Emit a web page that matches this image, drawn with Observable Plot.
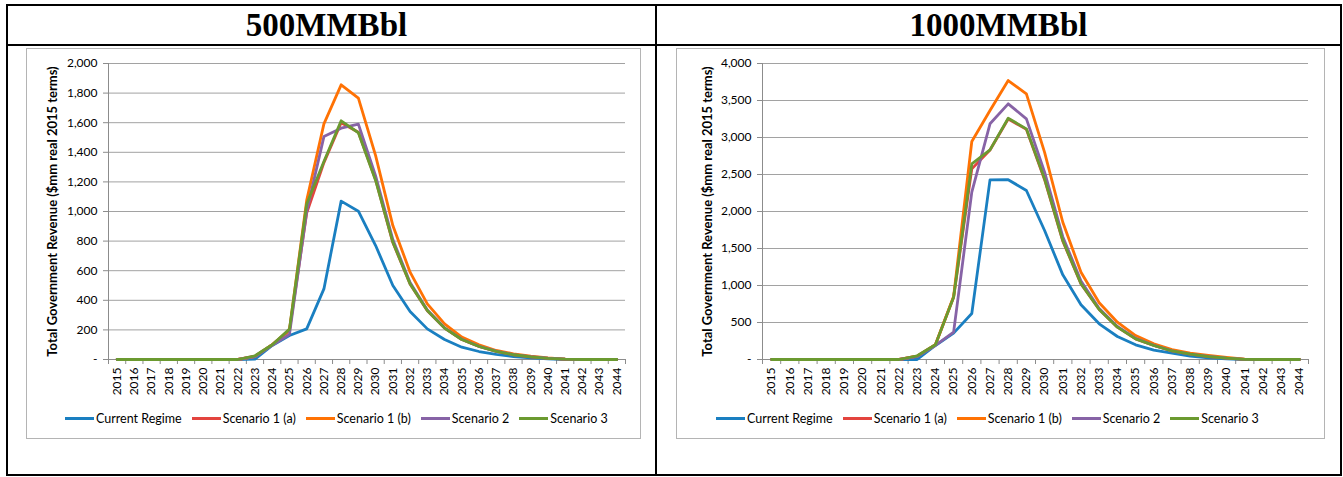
<!DOCTYPE html>
<html><head><meta charset="utf-8">
<script src="https://cdn.jsdelivr.net/npm/d3@7"></script>
<script src="https://cdn.jsdelivr.net/npm/@observablehq/plot@0.6"></script>
<style>
body{margin:0;background:#fff;width:1343px;height:477px;position:relative;overflow:hidden;font-family:Lato,sans-serif}
.ln{position:absolute;background:#000}
.title{position:absolute;top:6px;height:38px;display:flex;align-items:center;justify-content:center;font:bold 33px "Liberation Serif",serif;color:#000}
.frame{position:absolute;top:48px;height:391px;border:1.5px solid #b4b4b4;box-sizing:border-box}
.chart{position:absolute;top:48px}
.legend{position:absolute;top:410px;height:16px;display:flex;align-items:center;font:12.5px Lato,sans-serif;color:#000;white-space:nowrap}
.item{display:flex;align-items:center;margin-right:10px}
.sw{display:inline-block;width:29px;height:3px;margin-right:2px}
</style></head>
<body>
<div class="ln" style="left:6px;top:4px;width:1336px;height:2px"></div>
<div class="ln" style="left:6px;top:474px;width:1336px;height:2px"></div>
<div class="ln" style="left:6px;top:4px;width:2px;height:472px"></div>
<div class="ln" style="left:1340px;top:4px;width:2px;height:472px"></div>
<div class="ln" style="left:655px;top:4px;width:2px;height:472px"></div>
<div class="ln" style="left:6px;top:44px;width:1336px;height:2px"></div>
<div class="title" id="t0" style="left:8px;width:637px"></div>
<div class="title" id="t1" style="left:657px;width:683px"></div>
<div class="frame" style="left:26px;width:615px"></div>
<div class="frame" style="left:676px;width:649px"></div>
<div class="chart" id="c0" style="left:26px"></div>
<div class="chart" id="c1" style="left:676px"></div>
<div class="legend" id="l0" style="left:65px"></div>
<div class="legend" id="l1" style="left:716px"></div>
<script>
const titles = ["500MMBbl", "1000MMBbl"];
const yLabel = "Total Government Revenue ($mm real 2015 terms)";
const years = [2015,2016,2017,2018,2019,2020,2021,2022,2023,2024,2025,2026,2027,2028,2029,2030,2031,2032,2033,2034,2035,2036,2037,2038,2039,2040,2041,2042,2043,2044];
const names = ["Current Regime", "Scenario 1 (a)", "Scenario 1 (b)", "Scenario 2", "Scenario 3"];
const colors = ["#1a7fc1", "#e3443e", "#ff7204", "#8763a6", "#6b9a30"];

// 500MMBbl
const cr500  = [0,0,0,0,0,0,0,0,3,95,162,207,477,1070,1002,770,500,324,207,135,83,54,34,20,11,5,0,0,0,0];
const s1a500 = [0,0,0,0,0,0,0,0,22,100,195,990,1330,1600,1535,1215,790,510,330,212,135,88,55,32,18,8,2,0,0,0];
const s1b500 = [0,0,0,0,0,0,0,0,20,100,200,1075,1592,1856,1766,1378,905,590,376,241,151,99,61,38,22,11,3,0,0,0];
const s2_500 = [0,0,0,0,0,0,0,0,20,95,170,1000,1506,1563,1590,1240,810,520,335,214,137,89,56,33,19,9,2,0,0,0];
const s3_500 = [0,0,0,0,0,0,0,0,25,100,205,1051,1338,1613,1532,1210,793,511,331,212,135,88,55,32,18,8,2,0,0,0];

// 1000MMBbl
const cr1000  = [0,0,0,0,0,0,0,0,0,189,356,621,2428,2430,2284,1743,1144,739,482,311,198,126,86,45,22,9,0,0,0,0];
const s1a1000 = [0,0,0,0,0,0,0,0,45,200,840,2576,2830,3250,3110,2430,1600,1020,676,437,279,189,115,72,40,18,3,0,0,0];
const s1b1000 = [0,0,0,0,0,0,0,0,45,200,850,2946,3365,3770,3590,2800,1855,1180,766,504,324,212,135,86,54,27,5,0,0,0];
const s2_1000 = [0,0,0,0,0,0,0,0,40,190,369,2261,3185,3455,3252,2531,1660,1060,690,447,285,192,118,74,42,19,3,0,0,0];
const s3_1000 = [0,0,0,0,0,0,0,0,50,200,842,2644,2833,3261,3117,2441,1608,1023,676,437,279,189,115,72,40,18,3,0,0,0];

const yTicks500 = [0,200,400,600,800,1000,1200,1400,1600,1800,2000];
const yTicks1000 = [0,500,1000,1500,2000,2500,3000,3500,4000];

function chart(series, yTicks, width, mLeft, mRight, labelDx) {
  const rows = [];
  series.forEach((vals, k) => vals.forEach((v, i) => rows.push({year: years[i], value: v, name: names[k]})));
  const bounds = years.map(y => y - 0.5).concat([years[years.length - 1] + 0.5]);
  const fmt = d3.format(",");
  return Plot.plot({
    width, height: 355, marginLeft: mLeft, marginRight: mRight, marginTop: 15, marginBottom: 44,
    style: {fontFamily: "Lato, sans-serif", fontSize: "12px", color: "#000", background: "transparent", overflow: "visible"},
    x: {type: "linear", domain: [bounds[0], bounds[bounds.length - 1]]},
    y: {domain: [yTicks[0], yTicks[yTicks.length - 1]]},
    color: {domain: names, range: colors},
    marks: [
      Plot.gridY(yTicks.slice(1), {stroke: "#a2a2a2", strokeOpacity: 1, strokeWidth: 1}),
      Plot.axisY(yTicks, {tickSize: 5, tickPadding: 6, tickFormat: d => d === 0 ? "-" : fmt(d), label: null, stroke: "#8c8c8c"}),
      Plot.ruleX([bounds[0]], {stroke: "#8c8c8c"}),
      Plot.ruleY([0], {stroke: "#8c8c8c"}),
      Plot.axisX(bounds, {tickSize: 5, tickFormat: () => "", label: null, stroke: "#8c8c8c"}),
      Plot.axisX(years, {tickSize: 0, tickPadding: 8, tickRotate: -90, tickFormat: d => String(d), label: null}),
      Plot.line(rows, {x: "year", y: "value", z: "name", stroke: "name", strokeWidth: 2.8}),
      Plot.text([yLabel], {frameAnchor: "left", textAnchor: "middle", lineAnchor: "middle", dx: labelDx, rotate: -90, fontWeight: "bold", fontSize: 13, fill: "#000"})
    ]
  });
}

function legend(el) {
  names.forEach((n, i) => {
    const it = document.createElement("div");
    it.className = "item";
    const sw = document.createElement("span");
    sw.className = "sw";
    sw.style.background = colors[i];
    it.appendChild(sw);
    it.appendChild(document.createTextNode(n));
    el.appendChild(it);
  });
}

document.getElementById("t0").textContent = titles[0];
document.getElementById("t1").textContent = titles[1];
document.getElementById("c0").appendChild(chart([cr500, s1a500, s1b500, s2_500, s3_500], yTicks500, 615, 82, 16, -56));
document.getElementById("c1").appendChild(chart([cr1000, s1a1000, s1b1000, s2_1000, s3_1000], yTicks1000, 649, 86, 17, -55));
legend(document.getElementById("l0"));
legend(document.getElementById("l1"));
</script>
</body></html>
